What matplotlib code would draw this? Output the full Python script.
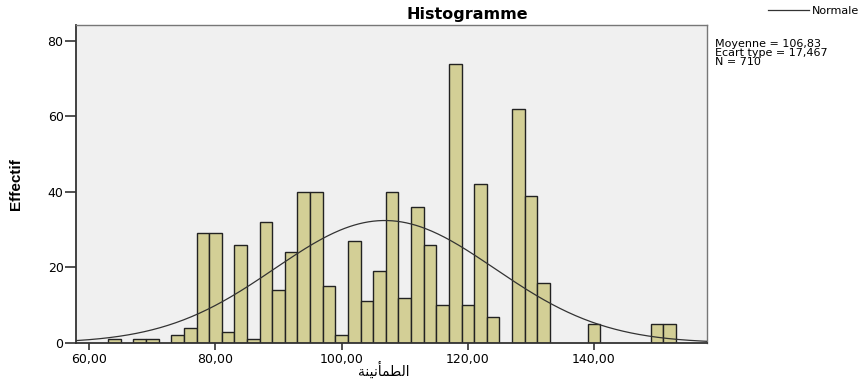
import numpy as np
from matplotlib import pyplot as plt

# bin centres (width 2) and counts
centres = [64, 68, 70, 74, 76, 78, 80, 82, 84, 86, 88, 90, 92, 94, 96, 98, 100,
           102, 104, 106, 108, 110, 112, 114, 116, 118, 120, 122, 124,
           128, 130, 132, 140, 150, 152]
counts = [1, 1, 1, 2, 4, 29, 29, 3, 26, 1, 32, 14, 24, 40, 40, 15, 2,
          27, 11, 19, 40, 12, 36, 26, 10, 74, 10, 42, 7,
          62, 39, 16, 5, 5, 5]

mean = 106.83
sd = 17.467
n = 710
bin_width = 2

x_ticks = [60, 80, 100, 120, 140]
x_tick_labels = ["60,00", "80,00", "100,00", "120,00", "140,00"]
y_ticks = [0, 20, 40, 60, 80]

# "الطمأنينة" written with presentation forms in visual order
# (matplotlib does no arabic shaping / RTL)
x_label = "\ufe94\ufee8\ufef4\ufee7\ufe84\ufee4\ufec4\ufedf\ufe8d"

plt.rcParams['font.family'] = ['DejaVu Sans']

fig = plt.figure(figsize=(8.63, 3.81), dpi=100)
ax = fig.add_axes([0.0881, 0.0997, 0.7311, 0.8347])
ax.set_facecolor("#f0f0f0")

ax.bar(centres, counts, width=bin_width, color="#d3cf96", edgecolor="#222222",
       linewidth=1.0, zorder=2)

xs = np.linspace(57.9, 157.9, 400)
ys = n * bin_width / (sd * np.sqrt(2 * np.pi)) * np.exp(-0.5 * ((xs - mean) / sd) ** 2)
ax.plot(xs, ys, color="#333333", linewidth=0.9, zorder=3, label="Normale")

ax.set_xlim(57.9, 157.9)
ax.set_ylim(0, 84.2)
ax.set_xticks(x_ticks)
ax.set_xticklabels(x_tick_labels)
ax.set_yticks(y_ticks)
ax.tick_params(axis='both', labelsize=9, width=1.2, color="#333333")
ax.tick_params(axis='x', length=5, pad=2)
ax.tick_params(axis='y', length=8, pad=1)

for side in ['left', 'bottom']:
    ax.spines[side].set_color("#333333")
    ax.spines[side].set_linewidth(1.3)
for side in ['top', 'right']:
    ax.spines[side].set_color("#777777")
    ax.spines[side].set_linewidth(1.0)

ax.set_title("Histogramme", fontsize=11.5, fontweight='bold', x=0.62, y=1.0, pad=4)
ax.set_xlabel(x_label, fontsize=10)
ax.xaxis.set_label_coords(0.487, -0.058)
ax.set_ylabel("Effectif", fontsize=11, fontweight='bold', family=['Liberation Sans'])
ax.yaxis.set_label_coords(-0.084, 0.5)

ax.legend(loc='center left', bbox_to_anchor=(1.096, 1.045), frameon=False,
          fontsize=8, handlelength=3.7, handletextpad=0.3, borderaxespad=0,
          borderpad=0)

fig.text(0.829, 0.897, "Moyenne = 106,83\nEcart type = 17,467\nN = 710",
         fontsize=8, va='top', ha='left', linespacing=0.84)

fig.savefig("out.png", dpi=100)
